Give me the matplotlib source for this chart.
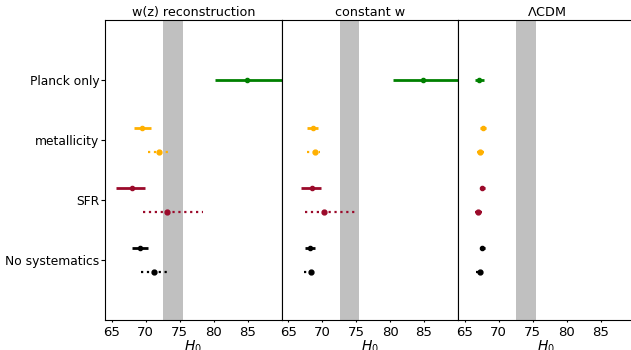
import matplotlib
matplotlib.use("Agg")
import matplotlib.pyplot as plt
import numpy as np

categories = ["No systematics", "SFR", "metallicity", "Planck only"]
panel_titles = ["w(z) reconstruction", "constant w", r"$\Lambda$CDM"]

# panel 1: w(z)
p1_centers = [69.2, 71.25, 68.0, 73.2, 69.5, 72.0, 84.9]
p1_lo      = [68.0, 69.3, 65.6, 69.6, 68.3, 70.4, 80.2]
p1_hi      = [70.4, 73.6, 69.9, 78.4, 70.8, 73.6, 91.0]
# panel 2: constant w
p2_centers = [68.2, 68.3, 68.5, 70.3, 68.6, 68.9, 84.85]
p2_lo      = [67.5, 67.25, 66.9, 67.5, 67.8, 67.8, 80.4]
p2_hi      = [69.0, 69.0, 69.8, 74.8, 69.4, 69.7, 91.0]
# panel 3: LCDM
p3_centers = [67.6, 67.2, 67.6, 67.0, 67.7, 67.3, 67.1]
p3_lo      = [67.2, 66.7, 67.2, 66.5, 67.3, 66.8, 66.5]
p3_hi      = [68.0, 67.7, 68.0, 67.5, 68.1, 67.8, 67.8]

series_cat    = [0, 0, 1, 1, 2, 2, 3]
series_offset = [0.2, -0.2, 0.2, -0.2, 0.2, -0.2, 0.0]
series_dotted = [False, True, False, True, False, True, False]
series_color  = ["black", "black", "#9b0a2a", "#9b0a2a", "#ffb000", "#ffb000", "green"]

riess_lo, riess_hi = 72.61, 75.45
xticks = [65, 70, 75, 80, 85]

plt.rcParams['font.size'] = 10
fig = plt.figure(figsize=(6.31, 3.5), dpi=100)
W, H = 631, 350
left_px, top_px, bot_px = 105, 20, 320
panel_w = 176.5
panels = [(p1_centers, p1_lo, p1_hi), (p2_centers, p2_lo, p2_hi), (p3_centers, p3_lo, p3_hi)]
for i, (cen, lo, hi) in enumerate(panels):
    ax = fig.add_axes([(left_px + i * panel_w) / W, (H - bot_px) / H, panel_w / W, (bot_px - top_px) / H])
    ax.axvspan(riess_lo, riess_hi, color="#c0c0c0", lw=0, zorder=0)
    for c, lo_, hi_, cat, off, dot, col in zip(cen, lo, hi, series_cat, series_offset, series_dotted, series_color):
        y = cat + off
        eb = ax.errorbar([c], [y], xerr=[[c - lo_], [hi_ - c]], fmt='o', color=col,
                         ms=3.5 if dot else 3, elinewidth=1.6 if dot else 2, capsize=0)
        if dot:
            eb[2][0].set_linestyle(':')
    ax.set_xlim(64, 90)
    ax.set_ylim(-1, 4)
    ax.set_xticks(xticks)
    ax.tick_params(axis='x', length=1.5, labelsize=9.5, pad=2.5)
    ax.set_title(panel_titles[i], fontsize=9.2, pad=3)
    ax.set_xlabel(r"$H_0$", labelpad=0)
    ax.set_yticks(range(len(categories)))
    if i == 0:
        ax.set_yticklabels(categories)
        ax.tick_params(axis='y', labelsize=8.8, pad=1, length=3)
    else:
        ax.tick_params(axis='y', left=False, labelleft=False)

fig.savefig("out.png", dpi=100)
